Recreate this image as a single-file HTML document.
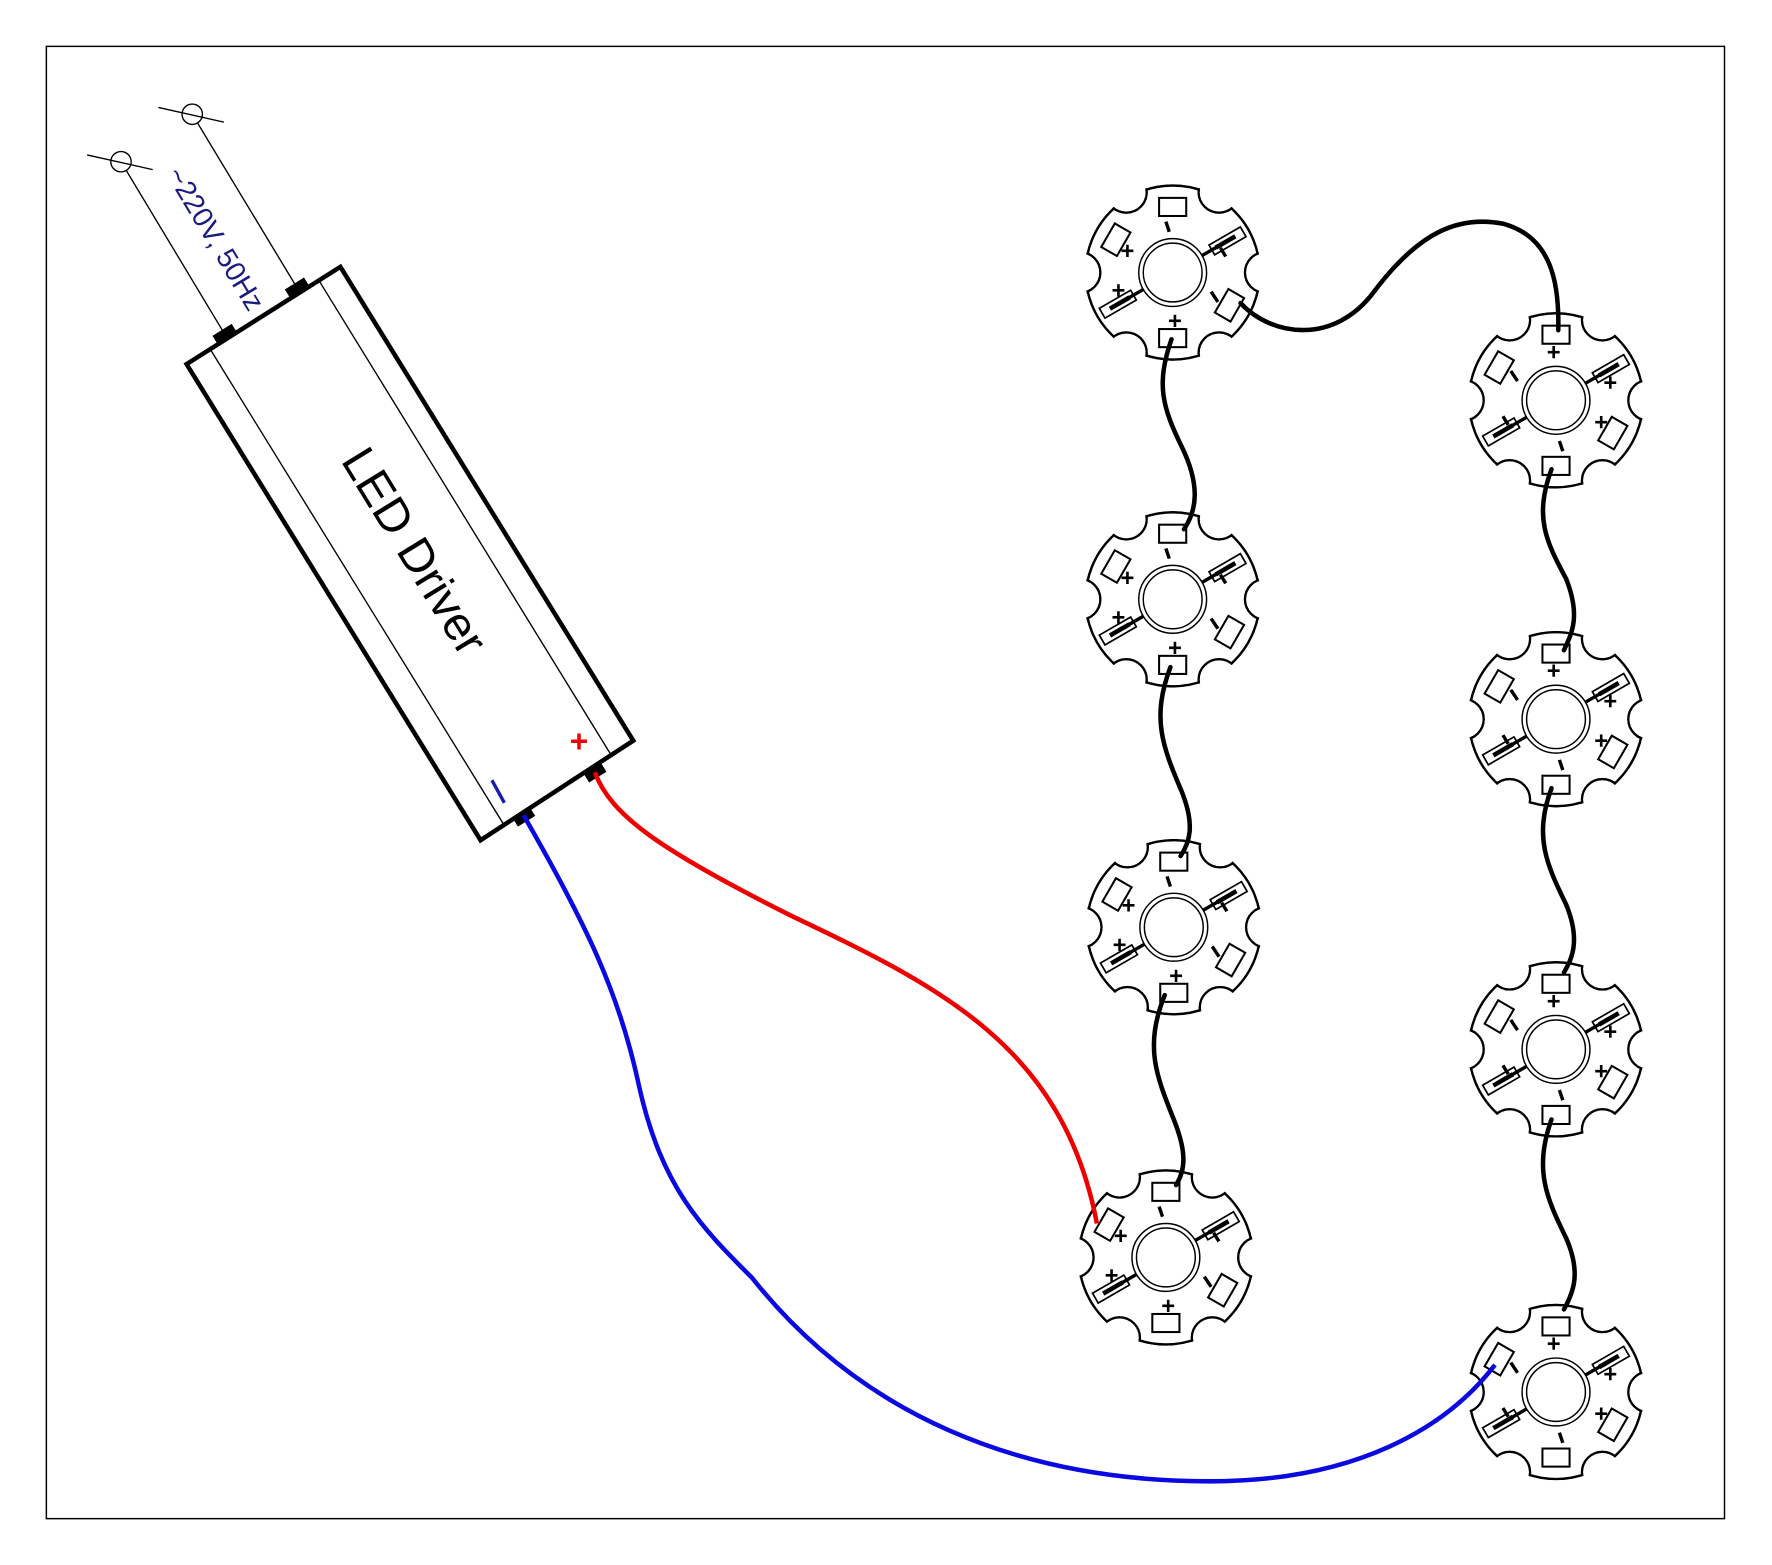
<!DOCTYPE html>
<html><head><meta charset="utf-8"><style>html,body{margin:0;padding:0;background:#fff}svg{display:block}</style></head>
<body>
<svg width="1772" height="1565" viewBox="0 0 1567 1384" preserveAspectRatio="none" xmlns="http://www.w3.org/2000/svg">
<defs>
<mask id="mk" maskUnits="userSpaceOnUse" x="-100" y="-100" width="200" height="200">
  <circle cx="0" cy="0" r="78.2" fill="#fff"/>
  <g fill="#000">
    <circle cx="82" cy="0" r="17"/><circle cx="41" cy="71" r="17"/><circle cx="-41" cy="71" r="17"/>
    <circle cx="-82" cy="0" r="17"/><circle cx="-41" cy="-71" r="17"/><circle cx="41" cy="-71" r="17"/>
  </g>
</mask>
<g id="star">
  <g mask="url(#mk)">
    <circle cx="0" cy="0" r="77" fill="#fff" stroke="#000" stroke-width="2.2"/>
    <g fill="none" stroke="#000" stroke-width="2.2">
      <circle cx="82" cy="0" r="18"/><circle cx="41" cy="71" r="18"/><circle cx="-41" cy="71" r="18"/>
      <circle cx="-82" cy="0" r="18"/><circle cx="-41" cy="-71" r="18"/><circle cx="41" cy="-71" r="18"/>
    </g>
  </g>
  <circle r="30" fill="#fff" stroke="#000" stroke-width="1.3"/>
  <circle r="26" fill="#fff" stroke="#000" stroke-width="1.3"/>
  <g fill="#fff" stroke="#000" stroke-width="1.8">
    <rect x="-12" y="-66" width="24" height="16"/>
    <rect x="-12" y="50" width="24" height="16"/>
    <rect x="-12" y="-66" width="24" height="16" transform="rotate(-60)"/>
    <rect x="-12" y="-66" width="24" height="16" transform="rotate(120)"/>
  </g>
  <g transform="rotate(60)">
    <line x1="0" y1="-30" x2="0" y2="-58" stroke="#000" stroke-width="3"/>
    <rect x="-5" y="-72" width="10" height="32" fill="none" stroke="#000" stroke-width="1.5"/>
    <rect x="-2" y="-64" width="4" height="20" fill="#000"/>
  </g>
  <g transform="rotate(240)">
    <line x1="0" y1="-30" x2="0" y2="-58" stroke="#000" stroke-width="3"/>
    <rect x="-5" y="-72" width="10" height="32" fill="none" stroke="#000" stroke-width="1.5"/>
    <rect x="-2" y="-64" width="4" height="20" fill="#000"/>
  </g>
  <g stroke="#000" stroke-width="3">
    <line x1="-6" y1="-45" x2="-3" y2="-36"/>
    <line x1="44" y1="-18" x2="48" y2="-10" transform="rotate(-5)"/>
    <line x1="34" y1="17" x2="40" y2="26"/>
  </g>
  <g font-family="Liberation Sans, sans-serif" font-size="21" font-weight="bold" text-anchor="middle" fill="#000">
    <text x="-40" y="-12">+</text>
    <text x="-48" y="23">+</text>
    <text x="2" y="50">+</text>
  </g>
</g>
</defs>
<rect x="41" y="41" width="1484" height="1302" fill="none" stroke="#000" stroke-width="1.3"/>

<g stroke="#000" stroke-width="1.2" fill="none">
  <line x1="107" y1="143" x2="199" y2="296"/>
  <line x1="170" y1="101" x2="263" y2="255"/>
  <circle cx="107" cy="143" r="9" fill="#fff"/>
  <circle cx="170" cy="101" r="9" fill="#fff"/>
  <line x1="77" y1="137" x2="135" y2="150"/>
  <line x1="140" y1="95" x2="198" y2="108"/>
</g>
<text transform="translate(189,212) rotate(59)" font-family="Liberation Sans, sans-serif" font-size="25" fill="#1a1a80" text-anchor="middle" dominant-baseline="middle">~220V, 50Hz</text>

<polygon points="165,322 301,236 560,655 425,743" fill="#fff" stroke="#000" stroke-width="4"/>
<line x1="186" y1="309" x2="446" y2="730" stroke="#000" stroke-width="1.2"/>
<line x1="282" y1="248" x2="540" y2="667" stroke="#000" stroke-width="1.2"/>
<g fill="#000">
  <rect x="-10" y="-5" width="20" height="10" transform="translate(199,296) rotate(-32)"/>
  <rect x="-10" y="-5" width="20" height="10" transform="translate(263,255) rotate(-32)"/>
  <rect x="-9" y="-4" width="18" height="9" transform="translate(463,722) rotate(-32)"/>
  <rect x="-9" y="-4" width="18" height="9" transform="translate(526,683) rotate(-32)"/>
</g>
<text transform="translate(364,489) rotate(58.5)" font-family="Liberation Sans, sans-serif" font-size="42" fill="#000" text-anchor="middle" dominant-baseline="middle">LED Driver</text>
<text x="512" y="665" font-family="Liberation Sans, sans-serif" font-size="28" font-weight="bold" fill="#e00" text-anchor="middle">+</text>
<line x1="435" y1="690" x2="446" y2="710" stroke="#1a1ab0" stroke-width="3"/>

<use href="#star" transform="translate(1037,241)"/>
<use href="#star" transform="translate(1037,530)"/>
<use href="#star" transform="translate(1038,820)"/>
<use href="#star" transform="translate(1031,1112)"/>
<use href="#star" transform="translate(1376,354) rotate(180)"/>
<use href="#star" transform="translate(1376,636) rotate(180)"/>
<use href="#star" transform="translate(1376,928) rotate(180)"/>
<use href="#star" transform="translate(1376,1231) rotate(180)"/>

<g stroke="#000" stroke-width="4" fill="none" stroke-linecap="round">
  <path d="M1097,268 C1125,298 1180,305 1215,258 C1255,205 1290,190 1330,198 C1372,210 1379,250 1378,292"/>
  <path d="M1036,300 C1022,340 1028,360 1045,395 C1062,430 1058,452 1047,468"/>
  <path d="M1035,590 C1018,635 1028,660 1045,700 C1057,730 1052,745 1044,757"/>
  <path d="M1030,880 C1012,925 1022,950 1038,990 C1050,1020 1048,1035 1040,1048"/>
  <path d="M1372,415 C1356,458 1368,480 1385,512 C1398,545 1390,560 1383,575"/>
  <path d="M1372,697 C1356,740 1368,765 1385,800 C1398,832 1390,848 1383,860"/>
  <path d="M1372,990 C1356,1035 1368,1060 1385,1095 C1398,1125 1392,1142 1383,1158"/>
</g>
<path d="M526,683 C540,720 580,750 700,810 C830,872 940,925 970,1082" stroke="#e00" stroke-width="4" fill="none"/>
<path d="M463,721 C520,820 548,880 565,960 C585,1050 620,1085 665,1130 C760,1250 900,1310 1070,1310 C1200,1310 1280,1262 1322,1207" stroke="#0a0ae0" stroke-width="4" fill="none"/>
</svg>
</body></html>
